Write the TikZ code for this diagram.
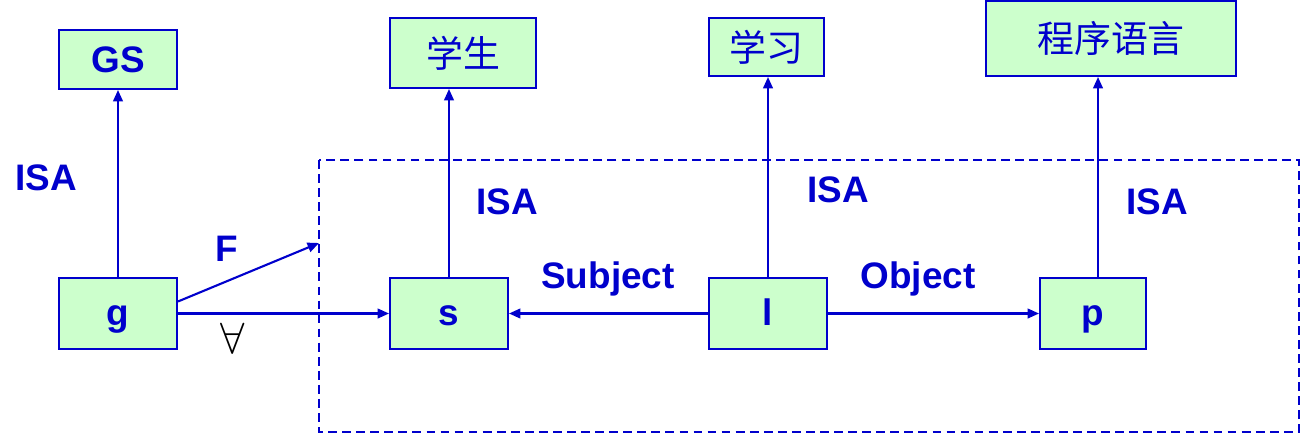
\documentclass[tikz,border=0pt]{standalone}
\usepackage{fontspec}
\setmainfont{Liberation Sans}
\newfontfamily\cjk{Noto Sans CJK SC}
\usepackage{xcolor}
\usepackage{tikz}
\usetikzlibrary{arrows.meta}
\definecolor{lineblue}{HTML}{0000CC}
\definecolor{boxgreen}{HTML}{CCFFCC}
\begin{document}
\begin{tikzpicture}[x=0.02cm,y=-0.02cm,
    box/.style={draw=lineblue,fill=boxgreen,line width=1.1pt,inner sep=0pt,
      text=lineblue,font=\fontsize{21}{25}\selectfont\bfseries},
    letterbox/.style={box,text height=16pt,text depth=1.8pt},
    cbox/.style={box,font=\fontsize{21}{25}\selectfont\cjk},
    lbl/.style={text=lineblue,font=\fontsize{21}{25}\selectfont\bfseries},
    arr/.style={draw=lineblue,line width=1.2pt,-{Triangle[length=6.5pt,width=5.5pt]}}]
    \useasboundingbox (0,0) rectangle (1301,433);

    % Frame
    \draw[lineblue,line width=1.1pt,dash pattern=on 5pt off 3pt] (319,160) rectangle (1299,432);
    \coordinate (Fend) at (319,243);

    % Boxes
    \node[box,minimum width=118*0.02cm,minimum height=59*0.02cm] (GS) at (118,59.5) {GS};
    \node[cbox,minimum width=146*0.02cm,minimum height=70*0.02cm] (xs) at (463,53) {学生};
    \node[cbox,minimum width=115*0.02cm,minimum height=58*0.02cm] (xx) at (766.5,47) {学习};
    \node[cbox,minimum width=250*0.02cm,minimum height=75*0.02cm] (cy) at (1111,38.5) {程序语言};
    \node[letterbox,minimum width=118*0.02cm,minimum height=71*0.02cm] (g) at (118,313.5) {g};
    \node[letterbox,minimum width=118*0.02cm,minimum height=71*0.02cm] (s) at (449,313.5) {s};
    \node[letterbox,minimum width=118*0.02cm,minimum height=71*0.02cm] (l) at (768,313.5) {l};
    \node[letterbox,minimum width=106*0.02cm,minimum height=71*0.02cm] (p) at (1093,313.5) {p};

    % Arrows
    \draw[arr] (g.north) -- (GS.south);
    \draw[arr] (s.north) -- (s.north |- xs.south);
    \draw[arr] (l.north) -- (l.north |- xx.south);
    \draw[arr] ([xshift=5*0.02cm]p.north) -- ([xshift=5*0.02cm]p.north |- cy.south);
    \draw[arr] (g.east) -- (s.west);
    \draw[arr] ([yshift=12*0.02cm]g.east) -- (Fend);
    \draw[arr] (l.west) -- (s.east);
    \draw[arr] (l.east) -- (p.west);

    % Labels
    \node[lbl] (isa1) at (46,178) {ISA};
    \node[lbl] (isa2) at (507,202) {ISA};
    \node[lbl] (isa3) at (838,190) {ISA};
    \node[lbl] (isa4) at (1157,202) {ISA};
    \node[lbl] (F) at (227,249) {F};
    \node[lbl] (subj) at (608,279) {Subject};
    \node[lbl] (obj) at (918,279) {Object};
    \node[font=\fontsize{25}{29}\selectfont] (all) at (233,338) {$\forall$};
\end{tikzpicture}
\end{document}
